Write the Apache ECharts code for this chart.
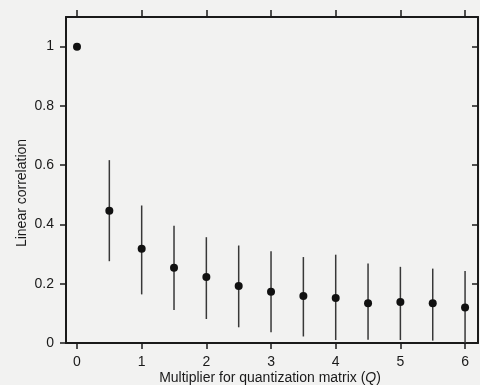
<!DOCTYPE html>
<html>
<head>
<meta charset="utf-8">
<script src="https://cdn.jsdelivr.net/npm/echarts@6/dist/echarts.min.js"></script>
<style>
html,body{margin:0;padding:0;background:#f2f2f1;}
#c{width:480px;height:385px;}
</style>
</head>
<body>
<div id="c"></div>
<script>
// Data
const multipliers = [0, 0.5, 1, 1.5, 2, 2.5, 3, 3.5, 4, 4.5, 5, 5.5, 6];
const meanCorr   = [1.0, 0.446, 0.318, 0.254, 0.223, 0.192, 0.173, 0.159, 0.152, 0.134, 0.138, 0.134, 0.12];
const upperCorr  = [null, 0.617, 0.464, 0.396, 0.357, 0.329, 0.310, 0.290, 0.298, 0.268, 0.257, 0.251, 0.243];
const lowerCorr  = [null, 0.276, 0.164, 0.111, 0.081, 0.053, 0.036, 0.022, 0.010, 0.011, 0.010, 0.008, 0.0];
const xTicks = [0, 1, 2, 3, 4, 5, 6];
const yTicks = [0, 0.2, 0.4, 0.6, 0.8, 1];
const xTitle = 'Multiplier for quantization matrix (';
const yTitle = 'Linear correlation';

const chart = echarts.init(document.getElementById('c'), null, {renderer: 'canvas'});
const font = 'Liberation Sans, Arial, Helvetica, sans-serif';
const ink = '#1a1a1a';

const pts = multipliers.map((x, i) => [x, meanCorr[i]]);
const bars = multipliers.map((x, i) => [x, lowerCorr[i], upperCorr[i]]).filter(d => d[1] !== null);

const axisCommon = {
  axisLine: {show: true, onZero: false, lineStyle: {color: ink, width: 2}},
  splitLine: {show: false}
};

chart.setOption({
  backgroundColor: '#f2f2f1',
  animation: false,
  grid: {left: 66, right: 2, top: 17, bottom: 42},
  xAxis: [
    Object.assign({
      type: 'value', position: 'bottom', min: -0.17, max: 6.2,
      axisTick: {show: true, inside: false, length: 6, customValues: xTicks, lineStyle: {color: ink, width: 1.5}},
      axisLabel: {show: true, customValues: xTicks, margin: 12, fontSize: 14, fontFamily: font, color: ink}
    }, axisCommon),
    Object.assign({
      type: 'value', position: 'top', min: -0.17, max: 6.2,
      axisTick: {show: true, inside: false, length: 7, customValues: xTicks, lineStyle: {color: ink, width: 1.5}},
      axisLabel: {show: false}
    }, axisCommon)
  ],
  yAxis: [
    Object.assign({
      type: 'value', position: 'left', min: 0, max: 1.1,
      axisTick: {show: true, inside: false, length: 6, customValues: yTicks, lineStyle: {color: ink, width: 1.5}},
      axisLabel: {show: true, customValues: yTicks, margin: 12, fontSize: 14, fontFamily: font, color: ink}
    }, axisCommon),
    Object.assign({
      type: 'value', position: 'right', min: 0, max: 1.1,
      axisTick: {show: true, inside: true, length: 6, customValues: yTicks, lineStyle: {color: ink, width: 1.5}},
      axisLabel: {show: false}
    }, axisCommon)
  ],
  graphic: [
    {
      type: 'text', x: 270, y: 378,
      style: {
        rich: {
          n: {fontSize: 14, fontFamily: font, fill: ink, fontStyle: 'normal'},
          i: {fontSize: 14, fontFamily: font, fill: ink, fontStyle: 'italic'}
        },
        text: '{n|' + xTitle + '}{i|Q}{n|)}',
        align: 'center', verticalAlign: 'middle'
      }
    },
    {
      type: 'text', x: 22, y: 193, rotation: Math.PI / 2,
      style: {
        text: yTitle, fontSize: 14, fontFamily: font, fill: ink,
        align: 'center', verticalAlign: 'middle'
      }
    }
  ],
  series: [
    {
      type: 'custom',
      xAxisIndex: 0, yAxisIndex: 0,
      data: bars,
      renderItem: function (params, api) {
        const lo = api.coord([api.value(0), api.value(1)]);
        const hi = api.coord([api.value(0), api.value(2)]);
        return {
          type: 'line',
          shape: {x1: lo[0], y1: lo[1], x2: hi[0], y2: hi[1]},
          style: {stroke: '#383838', lineWidth: 1.5}
        };
      },
      z: 2
    },
    {
      type: 'scatter',
      xAxisIndex: 0, yAxisIndex: 0,
      data: pts,
      symbol: 'circle', symbolSize: 8,
      itemStyle: {color: '#111', opacity: 1},
      z: 3
    }
  ]
});
</script>
</body>
</html>
